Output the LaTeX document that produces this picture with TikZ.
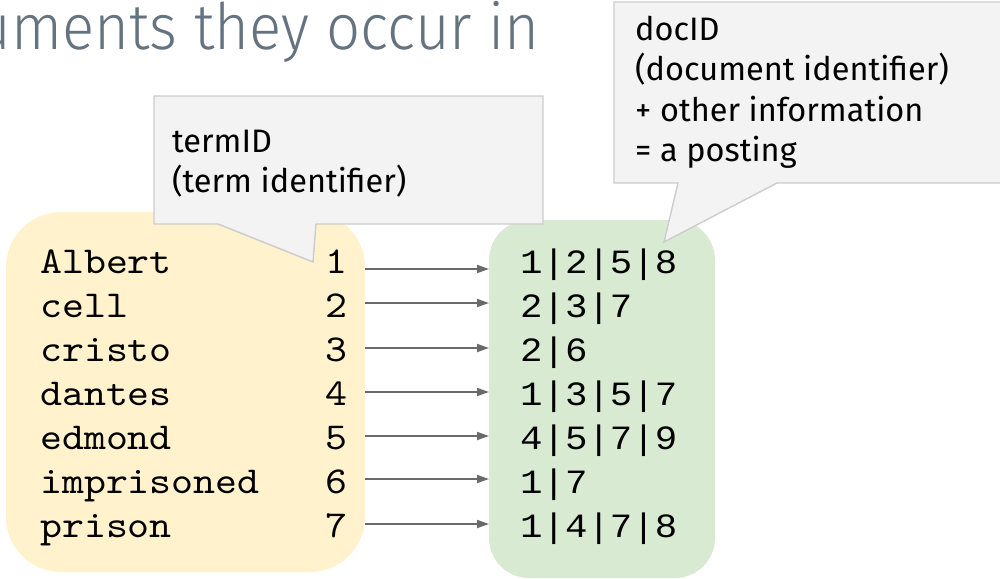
\documentclass[tikz,border=0pt]{standalone}
\usepackage{fontspec}
\setmainfont{Fira Sans}
\newfontfamily\titlefont{Fira Sans Light}[FakeStretch=0.935]
\newfontfamily\lefttt{lmmono10-regular.otf}[FakeStretch=1.1]
\newfontfamily\righttt{Liberation Mono}[FakeStretch=1.1]
\usetikzlibrary{arrows.meta}
\definecolor{yellowfill}{HTML}{FFF2CC}
\definecolor{greenfill}{HTML}{D9EAD3}
\definecolor{calloutfill}{HTML}{F3F3F3}
\definecolor{calloutdraw}{HTML}{CCCCCC}
\definecolor{titlegray}{HTML}{657381}
\definecolor{arrowgray}{HTML}{6A6A6A}
\tikzset{
  titletext/.style={font=\titlefont\fontsize{64}{70}\selectfont, text=titlegray, inner sep=0pt},
  callout/.style={fill=calloutfill, draw=calloutdraw, line width=1.4pt, line join=miter},
  callouttext/.style={font=\fontsize{32.5}{40.5}\selectfont, align=left, inner sep=0pt, text=black},
  termbox/.style={fill=yellowfill, draw=none, rounded corners=55pt},
  postbox/.style={fill=greenfill, draw=none, rounded corners=40pt},
  termword/.style={font=\lefttt\fontsize{38}{40}\selectfont, inner sep=0pt, anchor=base west},
  termnum/.style={font=\lefttt\fontsize{38}{40}\selectfont, inner sep=0pt, anchor=base east},
  posting/.style={font=\righttt\fontsize{34}{40}\selectfont, inner sep=0pt, anchor=base west},
  link/.style={draw=arrowgray, line width=1.8pt, -{Triangle[length=12pt,width=8pt]}}
}
\begin{document}
\begin{tikzpicture}[x=1pt,y=-1pt]
\useasboundingbox (0,0) rectangle (1000,578);
\clip (0,0) rectangle (1000,578);

% title
\node[titletext, anchor=base east] (title) at (540,50) {uments they occur in};

% boxes
\path[termbox] (6,212) rectangle (365,572);
\coordinate (yellowE) at (365,0);
\path[postbox] (489,220) rectangle (715,578);
\coordinate (greenW) at (489,0);

% term rows
\foreach \i/\w/\n in {1/Albert/1,2/cell/2,3/cristo/3,4/dantes/4,5/edmond/5,6/imprisoned/6,7/prison/7}{
  \node[termword] (w\i) at (40,{273+44*(\i-1)}) {\w};
  \node[termnum] (n\i) at (348,{273+44*(\i-1)}) {\n};
}
% posting rows
\foreach \i/\p in {1/1|2|5|8,2/2|3|7,3/2|6,4/1|3|5|7,5/4|5|7|9,6/1|7,7/1|4|7|8}{
  \node[posting] (p\i) at (520,{273+44*(\i-1)}) {\p};
}

% arrows
\foreach \i/\y in {1/269,2/303,3/348,4/392,5/436,6/479,7/524}{
  \coordinate (r\i) at (0,\y);
  \draw[link] (r\i -| yellowE) -- (r\i -| greenW);
}

% callout termID
\path[callout] (154,96) -- (543,96) -- (543,224) -- (316,224) -- (313,262) -- (218,224) -- (154,224) -- cycle;
\node[callouttext, anchor=north west] (termid) at (172,122) {\rule{0pt}{30pt}termID\\(term identifier)};

% callout docID
\path[callout] (614,2) -- (1010,2) -- (1010,183) -- (777,183) -- (664,242) -- (678,183) -- (614,183) -- cycle;
\node[callouttext, anchor=north west] (docid) at (635,10) {\rule{0pt}{30pt}docID\\(document identifier)\\+ other information\\= a posting};
\end{tikzpicture}
\end{document}
